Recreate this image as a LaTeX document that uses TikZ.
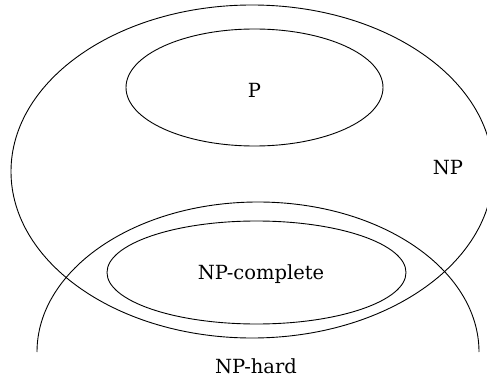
\documentclass[tikz,border=0pt]{standalone}
\usepackage{fontspec}
\setmainfont{DejaVu Serif}
\begin{document}
\begin{tikzpicture}[x=1pt,y=-1pt,
  setline/.style={line width=0.9pt,black},
  lbl/.style={font=\fontsize{19.5}{23}\selectfont,inner sep=0pt,anchor=center}]
\useasboundingbox (0,0) rectangle (487,382);
\clip (0,0) rectangle (487,382);
% NP
\draw[setline] (252,171.5) ellipse [x radius=241, y radius=166.5];
% P
\draw[setline] (254.5,87.5) ellipse [x radius=128.5, y radius=58.5];
% NP-complete
\draw[setline] (256.5,272.5) ellipse [x radius=149.5, y radius=51.5];
% NP-hard (upper half of an ellipse)
\draw[setline] (37,352) arc [start angle=180, end angle=360, x radius=221, y radius=150];
\node[lbl] (p) at (254.5,90) {P};
\node[lbl] (np) at (448,168) {NP};
\node[lbl] (npc) at (261,274) {NP-complete};
\node[lbl] (nph) at (256,366) {NP-hard};
\end{tikzpicture}
\end{document}
